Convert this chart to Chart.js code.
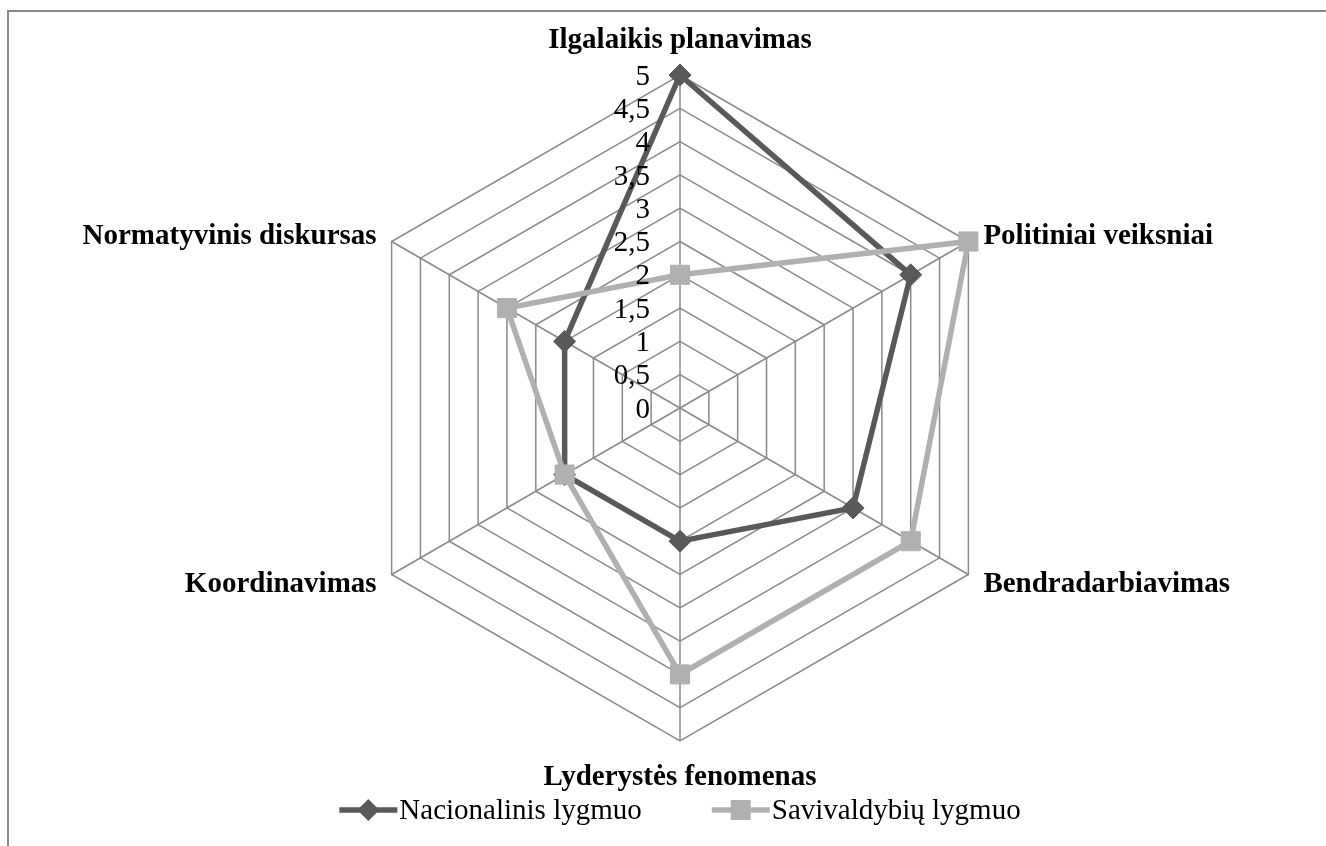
<!DOCTYPE html>
<html>
<head>
<meta charset="utf-8">
<script src="https://cdn.jsdelivr.net/npm/chart.js@4.4.1/dist/chart.umd.min.js"></script>
<style>
  html, body { margin: 0; padding: 0; background: #fff; overflow: hidden; }
  .frame { position: absolute; left: 7px; top: 10px; width: 1400px; height: 1000px;
           border-left: 2px solid #888; border-top: 2px solid #888; }
  #chart { position: absolute; left: 0; top: 0; }
</style>
</head>
<body>
<div class="frame"></div>
<canvas id="chart" width="1326" height="846"></canvas>
<script>
const categories = ['Ilgalaikis planavimas', 'Politiniai veiksniai', 'Bendradarbiavimas',
  'Lyderystės fenomenas', 'Koordinavimas', 'Normatyvinis diskursas'];
const nacionalinis = [5, 4, 3, 2, 2, 2];
const savivaldybiu = [2, 5, 4, 4, 2, 3];
const tickLabels = ['0', '0,5', '1', '1,5', '2', '2,5', '3', '3,5', '4', '4,5', '5'];
const seriesNames = ['Nacionalinis lygmuo', 'Savivaldybių lygmuo'];

const darkGray = '#595959';
const lightGray = '#b0b0b0';
const serif = "'Liberation Serif', 'Times New Roman', serif";

// tick values, axis names and legend drawn by hand so they sit like the Excel original
const labelsPlugin = {
  id: 'excelLabels',
  afterDraw(chart) {
    const ctx = chart.ctx;
    const scale = chart.scales.r;
    const cx = scale.xCenter, cy = scale.yCenter, R = scale.drawingArea;
    ctx.save();
    ctx.fillStyle = '#000';

    // tick labels, right aligned left of the top axis
    ctx.font = '29px ' + serif;
    ctx.textAlign = 'right';
    ctx.textBaseline = 'middle';
    scale.ticks.forEach((t, i) => {
      const d = scale.getDistanceFromCenterForValue(t.value);
      ctx.fillText(tickLabels[i], cx - 30, cy - d + 2);
    });

    // axis names
    ctx.font = 'bold 29px ' + serif;
    ctx.textBaseline = 'alphabetic';
    categories.forEach((name, i) => {
      const p = scale.getPointPosition(i, R);
      if (Math.abs(p.x - cx) < 1) {
        ctx.textAlign = 'center';
        ctx.fillText(name, p.x, p.y < cy ? p.y - 27 : p.y + 44);
      } else {
        ctx.textAlign = p.x > cx ? 'left' : 'right';
        const x = p.x > cx ? p.x + 15 : p.x - 15;
        ctx.fillText(name, x, p.y < cy ? p.y + 2 : p.y + 17);
      }
    });

    // legend
    ctx.font = '29px ' + serif;
    const w1 = ctx.measureText(seriesNames[0]).width;
    const w2 = ctx.measureText(seriesNames[1]).width;
    const gap = 70;
    let x = cx - (120 + w1 + w2 + gap) / 2;
    const ly = 810;
    const items = [
      { name: seriesNames[0], color: darkGray, shape: 'diamond', w: w1 },
      { name: seriesNames[1], color: lightGray, shape: 'square', w: w2 }
    ];
    items.forEach(it => {
      ctx.strokeStyle = it.color;
      ctx.fillStyle = it.color;
      ctx.lineWidth = 5.5;
      ctx.beginPath();
      ctx.moveTo(x, ly);
      ctx.lineTo(x + 58, ly);
      ctx.stroke();
      ctx.beginPath();
      if (it.shape === 'diamond') {
        ctx.moveTo(x + 29, ly - 11);
        ctx.lineTo(x + 40, ly);
        ctx.lineTo(x + 29, ly + 11);
        ctx.lineTo(x + 18, ly);
        ctx.closePath();
      } else {
        ctx.rect(x + 19, ly - 10, 20, 20);
      }
      ctx.fill();
      ctx.fillStyle = '#000';
      ctx.textAlign = 'left';
      ctx.textBaseline = 'middle';
      ctx.fillText(it.name, x + 60, ly + 1);
      x += 60 + it.w + gap;
    });
    ctx.restore();
  }
};

new Chart(document.getElementById('chart'), {
  type: 'radar',
  data: {
    labels: categories,
    datasets: [{
      label: seriesNames[0],
      data: nacionalinis,
      borderColor: darkGray,
      backgroundColor: darkGray,
      borderWidth: 5.5,
      pointStyle: 'rectRot',
      pointRadius: 11,
      pointBorderWidth: 1,
      pointBackgroundColor: darkGray,
      pointBorderColor: darkGray,
      fill: false,
      order: 1
    }, {
      label: seriesNames[1],
      data: savivaldybiu,
      borderColor: lightGray,
      backgroundColor: lightGray,
      borderWidth: 5.5,
      pointStyle: 'rect',
      pointRadius: 13.5,
      pointBorderWidth: 1,
      pointBackgroundColor: lightGray,
      pointBorderColor: lightGray,
      fill: false,
      order: 0
    }]
  },
  options: {
    responsive: false,
    animation: false,
    layout: { padding: { left: 330, right: 296, top: 75, bottom: 105 } },
    plugins: { legend: { display: false }, tooltip: { enabled: false } },
    elements: { line: { tension: 0 } },
    scales: {
      r: {
        min: 0,
        max: 5,
        beginAtZero: true,
        ticks: { stepSize: 0.5, display: false, callback: (v, i) => tickLabels[i] },
        grid: { color: '#8a8a8a', lineWidth: 1.5 },
        angleLines: { color: '#8a8a8a', lineWidth: 1.5 },
        pointLabels: { display: false }
      }
    }
  },
  plugins: [labelsPlugin]
});
</script>
</body>
</html>
